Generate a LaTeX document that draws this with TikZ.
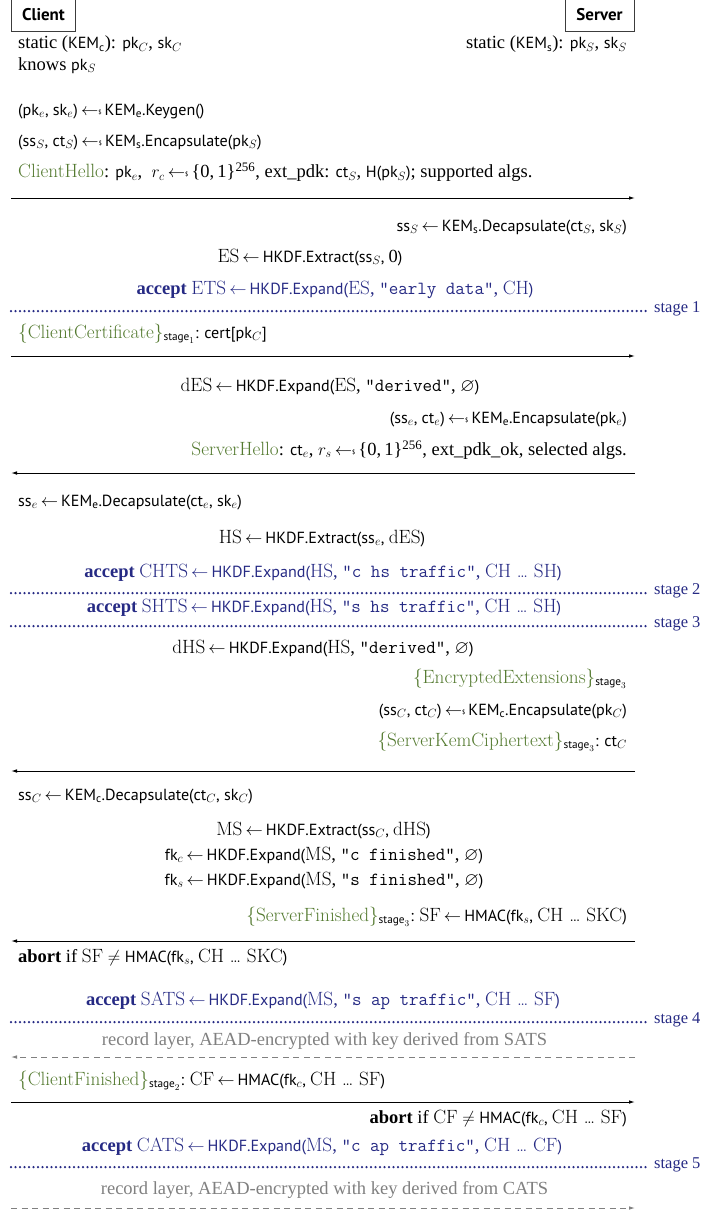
\documentclass[tikz,border=0pt]{standalone}
\usepackage{amsmath,amssymb}
\usepackage{fontspec}
\setmainfont{Liberation Serif}
\newfontfamily\ptsans[Scale=0.87]{PT Sans}
\usetikzlibrary{arrows.meta}
\definecolor{msggreen}{RGB}{84,122,48}
\definecolor{acceptblue}{RGB}{38,42,132}
\definecolor{recgray}{RGB}{128,128,128}
\definecolor{boxgray}{RGB}{60,60,60}
\newcommand\basefs{\fontsize{18.5}{22}\selectfont}
\newcommand\ssf[1]{{\ptsans #1}}
\newcommand\crm[1]{{\fontfamily{lmr}\fontsize{19.2}{22}\selectfont #1}}
\newcommand\Msg[1]{\textcolor{msggreen}{\crm{#1}}}
\newcommand\Tt[1]{{\fontfamily{lmtt}\selectfont "#1"}}
\newcommand\lar{\,$\leftarrow$\,}
\newcommand\rnd{\,$\leftarrow$\raisebox{0.15ex}{\ssf{\scriptsize\$}}\,}
\newcommand\bits{\{0,\,1\}\textsuperscript{256}}
\newcommand\stg[1]{$_{\text{\ssf{stage}}_{#1}}$}
\newcommand\subsf[1]{$_{\text{\ssf{#1}}}$}
\begin{document}
\begin{tikzpicture}[x=1pt,y=-1pt,
  txt/.style={inner sep=0pt, font=\basefs},
  lft/.style={txt, anchor=mid west},
  rgt/.style={txt, anchor=mid east},
  ctr/.style={txt, anchor=mid},
  acc/.style={ctr, text=acceptblue},
  recl/.style={ctr, text=recgray},
  party/.style={draw=boxgray, line width=0.8pt, inner sep=0pt, minimum height=33pt, font=\ptsans\bfseries\fontsize{19.5}{22}\selectfont},
  msgarrow/.style={-{Latex[length=6pt,width=3.6pt]}, line width=1pt},
  stageline/.style={draw=acceptblue, line width=2.5pt, line cap=round, dash pattern=on 0pt off 4.5pt},
  stagelabel/.style={inner sep=0pt, anchor=mid west, text=acceptblue, font=\fontsize{16.5}{20}\selectfont},
  recarrow/.style={-{Latex[length=6pt,width=3.6pt]}, draw=recgray, line width=0.9pt, dash pattern=on 6pt off 4.5pt}
]
\useasboundingbox (0,0) rectangle (704,1213);

% parties
\node[party, minimum width=64pt] (client) at (43.5,14.5) {Client};
\node[party, minimum width=69pt] (server) at (599.5,14.5) {Server};

\node[lft] (t1) at (18,46.5) {static (\ssf{KEM}\subsf{c}): \ssf{pk}$_C$, \ssf{sk}$_C$};
\node[rgt] (t2) at (627,46.5) {static (\ssf{KEM}\subsf{s}): \ssf{pk}$_S$, \ssf{sk}$_S$};
\node[lft] (t3) at (18,68) {knows \ssf{pk}$_S$};
\node[lft] (t4) at (18,113) {\ssf{(pk}$_e$\ssf{, sk}$_e$\ssf{)}\rnd\ssf{KEM}\subsf{e}\ssf{.Keygen()}};
\node[lft] (t5) at (18,144) {\ssf{(ss}$_S$\ssf{, ct}$_S$\ssf{)}\rnd\ssf{KEM}\subsf{s}\ssf{.Encapsulate(pk}$_S$\ssf{)}};
\node[lft] (t6) at (18,175.5) {\Msg{ClientHello}: \ssf{pk}$_e$,\ \ $r_c$\rnd\bits, ext\_pdk: \ssf{ct}$_S$, \ssf{H(pk}$_S$\ssf{)}; supported algs.};
\coordinate (a1l) at (11,198); \coordinate (a1r) at (635,198);
\draw[msgarrow] (a1l) -- (a1r);

\node[rgt] (t7) at (627,229) {\ssf{ss}$_S$\lar\ssf{KEM}\subsf{s}\ssf{.Decapsulate(ct}$_S$\ssf{, sk}$_S$\ssf{)}};
\node[ctr] (t8) at (310,260) {\crm{ES}\lar\ssf{HKDF.Extract(ss}$_S$\ssf{, }0\ssf{)}};
\node[acc] (t9) at (335,292) {\textbf{accept} \crm{ETS}\lar\ssf{HKDF.Expand(}\crm{ES}, \Tt{early data}, \crm{CH}\ssf{)}};
\coordinate (d1l) at (11,311); \coordinate (d1r) at (647,311);
\draw[stageline] (d1l) -- (d1r);
\node[stagelabel] (s1) at (654,310) {stage 1};

\node[lft] (t10) at (18,336) {\Msg{\{ClientCertificate\}}\stg{1}\ssf{: cert[pk}$_C$\ssf{]}};
\coordinate (a2l) at (11,356); \coordinate (a2r) at (635,356);
\draw[msgarrow] (a2l) -- (a2r);

\node[ctr] (t11) at (330,389) {\crm{dES}\lar\ssf{HKDF.Expand(}\crm{ES}, \Tt{derived}, $\varnothing$\ssf{)}};
\node[rgt] (t12) at (627,421) {\ssf{(ss}$_e$\ssf{, ct}$_e$\ssf{)}\rnd\ssf{KEM}\subsf{e}\ssf{.Encapsulate(pk}$_e$\ssf{)}};
\node[rgt] (t13) at (627,453) {\Msg{ServerHello}: \ssf{ct}$_e$, $r_s$\rnd\bits, ext\_pdk\_ok, selected algs.};
\coordinate (a3l) at (11,473); \coordinate (a3r) at (635,473);
\draw[msgarrow] (a3r) -- (a3l);

\node[lft] (t14) at (18,504) {\ssf{ss}$_e$\lar\ssf{KEM}\subsf{e}\ssf{.Decapsulate(ct}$_e$\ssf{, sk}$_e$\ssf{)}};
\node[ctr] (t15) at (322,541) {\crm{HS}\lar\ssf{HKDF.Extract(ss}$_e$\ssf{, }\crm{dES}\ssf{)}};
\node[acc] (t16) at (323,575) {\textbf{accept} \crm{CHTS}\lar\ssf{HKDF.Expand(}\crm{HS}, \Tt{c hs traffic}, \crm{CH \ldots\ SH}\ssf{)}};
\coordinate (d2l) at (11,593); \coordinate (d2r) at (647,593);
\draw[stageline] (d2l) -- (d2r);
\node[stagelabel] (s2) at (654,592) {stage 2};
\node[acc] (t17) at (324,610) {\textbf{accept} \crm{SHTS}\lar\ssf{HKDF.Expand(}\crm{HS}, \Tt{s hs traffic}, \crm{CH \ldots\ SH}\ssf{)}};
\coordinate (d3l) at (11,626); \coordinate (d3r) at (647,626);
\draw[stageline] (d3l) -- (d3r);
\node[stagelabel] (s3) at (654,625) {stage 3};

\node[ctr] (t18) at (323,651) {\crm{dHS}\lar\ssf{HKDF.Expand(}\crm{HS}, \Tt{derived}, $\varnothing$\ssf{)}};
\node[rgt] (t19) at (627,681) {\Msg{\{EncryptedExtensions\}}\stg{3}};
\node[rgt] (t20) at (627,713) {\ssf{(ss}$_C$\ssf{, ct}$_C$\ssf{)}\rnd\ssf{KEM}\subsf{c}\ssf{.Encapsulate(pk}$_C$\ssf{)}};
\node[rgt] (t21) at (627,744) {\Msg{\{ServerKemCiphertext\}}\stg{3}\ssf{: ct}$_C$};
\coordinate (a4l) at (11,771); \coordinate (a4r) at (635,771);
\draw[msgarrow] (a4r) -- (a4l);

\node[lft] (t22) at (18,798) {\ssf{ss}$_C$\lar\ssf{KEM}\subsf{c}\ssf{.Decapsulate(ct}$_C$\ssf{, sk}$_C$\ssf{)}};
\node[ctr] (t23) at (323.5,833) {\crm{MS}\lar\ssf{HKDF.Extract(ss}$_C$\ssf{, }\crm{dHS}\ssf{)}};
\node[ctr] (t24) at (324,858) {\ssf{fk}$_c$\lar\ssf{HKDF.Expand(}\crm{MS}, \Tt{c finished}, $\varnothing$\ssf{)}};
\node[ctr] (t25) at (324,883) {\ssf{fk}$_s$\lar\ssf{HKDF.Expand(}\crm{MS}, \Tt{s finished}, $\varnothing$\ssf{)}};
\node[rgt] (t26) at (627,919) {\Msg{\{ServerFinished\}}\stg{3}\ssf{: }\crm{SF}\lar\ssf{HMAC(fk}$_s$\ssf{, }\crm{CH \ldots\ SKC}\ssf{)}};
\coordinate (a5l) at (11,941); \coordinate (a5r) at (635,941);
\draw[msgarrow] (a5r) -- (a5l);
\node[lft] (t27) at (18,960) {\textbf{abort} if \crm{SF} $\neq$ \ssf{HMAC(fk}$_s$\ssf{, }\crm{CH \ldots\ SKC}\ssf{)}};

\node[acc] (t28) at (323,1003) {\textbf{accept} \crm{SATS}\lar\ssf{HKDF.Expand(}\crm{MS}, \Tt{s ap traffic}, \crm{CH \ldots\ SF}\ssf{)}};
\coordinate (d4l) at (11,1022); \coordinate (d4r) at (647,1022);
\draw[stageline] (d4l) -- (d4r);
\node[stagelabel] (s4) at (654,1021) {stage 4};
\node[recl] (t29) at (324.5,1043) {record layer, AEAD-encrypted with key derived from SATS};
\coordinate (r1l) at (11,1057); \coordinate (r1r) at (635,1057);
\draw[recarrow] (r1r) -- (r1l);

\node[lft] (t30) at (18,1083) {\Msg{\{ClientFinished\}}\stg{2}\ssf{: }\crm{CF}\lar\ssf{HMAC(fk}$_c$\ssf{, }\crm{CH \ldots\ SF}\ssf{)}};
\coordinate (a6l) at (11,1102); \coordinate (a6r) at (635,1102);
\draw[msgarrow] (a6l) -- (a6r);
\node[rgt] (t31) at (627,1121) {\textbf{abort} if \crm{CF} $\neq$ \ssf{HMAC(fk}$_c$\ssf{, }\crm{CH \ldots\ SF}\ssf{)}};

\node[acc] (t32) at (322,1149) {\textbf{accept} \crm{CATS}\lar\ssf{HKDF.Expand(}\crm{MS}, \Tt{c ap traffic}, \crm{CH \ldots\ CF}\ssf{)}};
\coordinate (d5l) at (11,1167); \coordinate (d5r) at (647,1167);
\draw[stageline] (d5l) -- (d5r);
\node[stagelabel] (s5) at (654,1166) {stage 5};
\node[recl] (t33) at (324.5,1192) {record layer, AEAD-encrypted with key derived from CATS};
\coordinate (r2l) at (11,1208); \coordinate (r2r) at (635,1208);
\draw[recarrow] (r2l) -- (r2r);
\end{tikzpicture}
\end{document}
